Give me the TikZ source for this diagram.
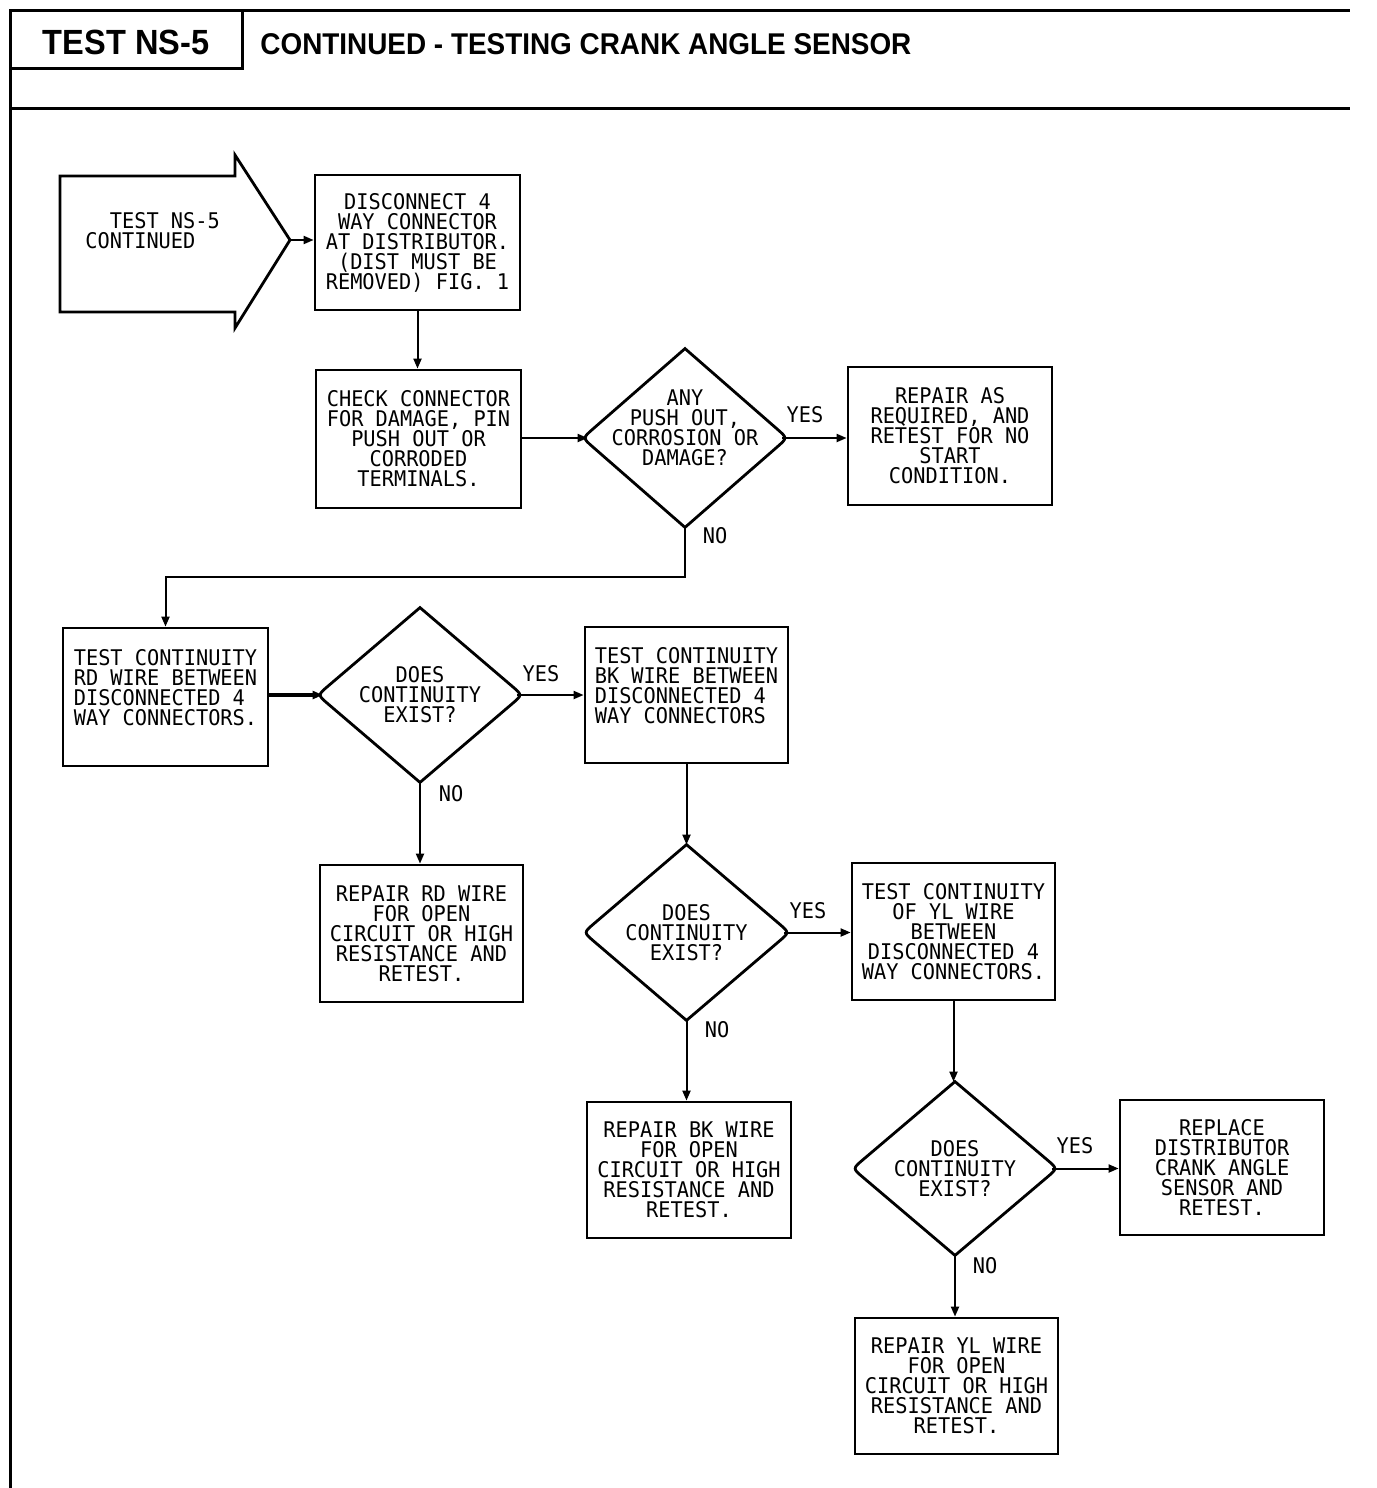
\documentclass[tikz,border=0pt]{standalone}
\usepackage{fontspec}
\newfontfamily\plotfont[FakeStretch=0.94]{DejaVu Sans Mono}
\newfontfamily\headfont[FakeStretch=0.93]{Liberation Sans}
\usetikzlibrary{calc,arrows.meta}
\tikzset{
  plot/.style={font=\plotfont\fontsize{10.8}{10}\selectfont},
  stepbox/.style={plot, draw, line width=1.4pt, inner sep=0pt, align=center},
  decision/.style={plot, draw=none, inner sep=0pt, align=center},
  conn/.style={line width=1pt, -{Triangle[length=5pt,width=4pt]}},
  lbl/.style={plot, inner sep=0pt},
  frame/.style={line width=1.5pt},
  dshape/.style={line width=1.4pt},
  sz/.style n args={2}{minimum width=#1, minimum height=#2}
}
\begin{document}
\begin{tikzpicture}[x=0.5pt,y=-0.5pt]
\useasboundingbox (0,0) rectangle (1376,1488);
% frame and header
\draw[frame] (10,10) -- (1350,10);
\draw[frame] (10,108) -- (1350,108);
\draw[frame] (10,10) -- (10,1488);
\node[draw, frame, inner sep=0pt, sz={116pt}{29pt}, text height=15.5pt, font=\headfont\bfseries\fontsize{17.5}{20}\selectfont] (hdr) at (126,39) {TEST NS-5};
\node[anchor=west, inner sep=0pt, font=\headfont\bfseries\fontsize{15}{17}\selectfont] (title) at (260,44) {CONTINUED - TESTING CRANK ANGLE SENSOR};

% start arrow
\draw[dshape] (60,176) -- (235,176) -- (235,155) -- (290,240) -- (235,328) -- (235,312) -- (60,312) -- cycle;
\node[lbl, align=left, anchor=west] (start) at (85,231) {~~TEST NS-5\\CONTINUED};
\coordinate (starttip) at (290,240);

% boxes
\node[stepbox, sz={102.5pt}{67.5pt}] (b1) at (417.5,242.5) {DISCONNECT 4\\WAY CONNECTOR\\AT DISTRIBUTOR.\\(DIST MUST BE\\REMOVED) FIG. 1};
\node[stepbox, sz={102.5pt}{69pt}] (b2) at (418.5,439) {CHECK CONNECTOR\\FOR DAMAGE, PIN\\PUSH OUT OR\\CORRODED\\TERMINALS.};
\node[stepbox, sz={102pt}{69pt}] (b3) at (950,436) {REPAIR AS\\REQUIRED, AND\\RETEST FOR NO\\START\\CONDITION.};
\node[stepbox, align=left, sz={102.5pt}{69pt}] (b4) at (165.5,697) {TEST CONTINUITY\\RD WIRE BETWEEN\\DISCONNECTED 4\\WAY CONNECTORS.\\\mbox{}};
\node[stepbox, align=left, sz={101.5pt}{68pt}] (b5) at (686.5,695) {TEST CONTINUITY\\BK WIRE BETWEEN\\DISCONNECTED 4\\WAY CONNECTORS\\\mbox{}};
\node[stepbox, sz={101.5pt}{68.5pt}] (b6) at (421.5,933.5) {REPAIR RD WIRE\\FOR OPEN\\CIRCUIT OR HIGH\\RESISTANCE AND\\RETEST.};
\node[stepbox, sz={101.5pt}{68.5pt}] (b7) at (953.5,931.5) {TEST CONTINUITY\\OF YL WIRE\\BETWEEN\\DISCONNECTED 4\\WAY CONNECTORS.};
\node[stepbox, sz={102pt}{68pt}] (b8) at (689,1170) {REPAIR BK WIRE\\FOR OPEN\\CIRCUIT OR HIGH\\RESISTANCE AND\\RETEST.};
\node[stepbox, sz={102pt}{67.5pt}] (b9) at (1222,1167.5) {REPLACE\\DISTRIBUTOR\\CRANK ANGLE\\SENSOR AND\\RETEST.};
\node[stepbox, sz={101.5pt}{68pt}] (b10) at (956.5,1386) {REPAIR YL WIRE\\FOR OPEN\\CIRCUIT OR HIGH\\RESISTANCE AND\\RETEST.};

% decisions
\node[decision, sz={102pt}{89pt}] (d1) at (685,438) {ANY\\PUSH OUT,\\CORROSION OR\\DAMAGE?\\\mbox{}};
\node[decision, sz={102pt}{87pt}] (d2) at (420,695) {DOES\\CONTINUITY\\EXIST?};
\node[decision, sz={102.5pt}{87.5pt}] (d3) at (686.5,932.5) {DOES\\CONTINUITY\\EXIST?};
\node[decision, sz={102pt}{86.5pt}] (d4) at (955,1168.5) {DOES\\CONTINUITY\\EXIST?};
\foreach \d in {d1,d2,d3,d4}{
  \draw[dshape] (\d.north) -- ($(\d.west)!0.1!(\d.north)$) .. controls (\d.west) .. ($(\d.west)!0.1!(\d.south)$)
    -- (\d.south) -- ($(\d.east)!0.1!(\d.south)$) .. controls (\d.east) .. ($(\d.east)!0.1!(\d.north)$) -- cycle;
}

% connectors
\draw[conn] (starttip) -- (starttip -| b1.west);
\draw[conn] (b1.south) -- (b1.south |- b2.north);
\draw[conn] (b2.east |- d1.west) -- ([xshift=2.5pt]d1.west);
\draw[conn] ([xshift=-2.5pt]d1.east) -- (d1.east -| b3.west);
\draw[conn] (d1.south) -- ++(0,50) -| (b4.north);
\draw[conn, line width=1.6pt] (b4.east |- d2.west) -- ([xshift=2.5pt]d2.west);
\draw[conn] ([xshift=-2.5pt]d2.east) -- (d2.east -| b5.west);
\draw[conn] (d2.south) -- (d2.south |- b6.north);
\draw[conn] (b5.south) -- (b5.south |- d3.north);
\draw[conn] ([xshift=-2.5pt]d3.east) -- (d3.east -| b7.west);
\draw[conn] (d3.south) -- (d3.south |- b8.north);
\draw[conn] (b7.south) -- (b7.south |- d4.north);
\draw[conn] ([xshift=-2.5pt]d4.east) -- (d4.east -| b9.west);
\draw[conn] (d4.south) -- (d4.south |- b10.north);

% labels
\node[lbl] (y1) at (805,415) {YES};
\node[lbl] (n1) at (715,536) {NO};
\node[lbl] (y2) at (541,674) {YES};
\node[lbl] (n2) at (451,794) {NO};
\node[lbl] (y3) at (808,911) {YES};
\node[lbl] (n3) at (717,1030) {NO};
\node[lbl] (y4) at (1075,1146) {YES};
\node[lbl] (n4) at (985,1266) {NO};
\end{tikzpicture}
\end{document}
